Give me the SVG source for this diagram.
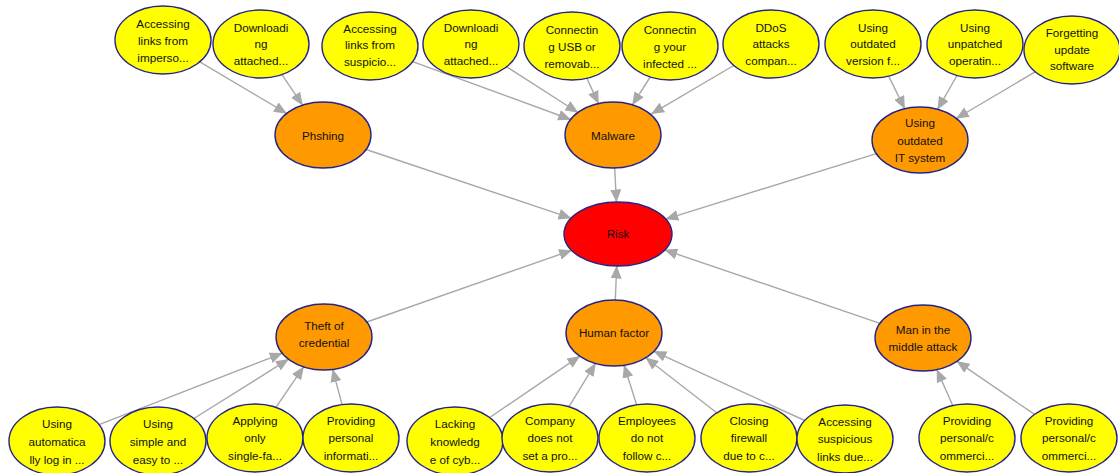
<svg xmlns="http://www.w3.org/2000/svg" width="1119" height="473" viewBox="0 0 1119 473">
  <defs>
    <marker id="arrow" markerUnits="userSpaceOnUse" markerWidth="13" markerHeight="11" viewBox="0 0 13 11" refX="12.5" refY="5.5" orient="auto">
      <path d="M0,0 L13,5.5 L0,11 Z" fill="#a8a8a8"/>
    </marker>
    <style>
      .edge { stroke: #a8a8a8; stroke-width: 1.4; fill: none; marker-end: url(#arrow); }
      .node ellipse { stroke: #23238a; stroke-width: 1.4; }
      .cause ellipse { fill: #ffff00; }
      .threat ellipse { fill: #ff9900; }
      .risk ellipse { fill: #ff0000; }
      .node text { font-family: "Liberation Sans", Arial, sans-serif; font-size: 11.7px; fill: #111; text-anchor: middle; dominant-baseline: central; }
    </style>
  </defs>
  <rect width="1119" height="473" fill="#ffffff"/>

  <!-- connectors -->
  <g id="edges">
    <line class="edge" x1="199.8" y1="61.8" x2="286.6" y2="113.4"/>
    <line class="edge" x1="281.9" y1="74.6" x2="302.6" y2="105.1"/>
    <line class="edge" x1="412.6" y1="61.6" x2="570.7" y2="119.5"/>
    <line class="edge" x1="506.6" y1="66.8" x2="577.9" y2="112.5"/>
    <line class="edge" x1="586.9" y1="78.3" x2="598.5" y2="103.6"/>
    <line class="edge" x1="650.2" y1="77.0" x2="632.4" y2="104.8"/>
    <line class="edge" x1="733.7" y1="65.5" x2="651.5" y2="113.8"/>
    <line class="edge" x1="888.7" y1="76.1" x2="904.7" y2="108.7"/>
    <line class="edge" x1="957.0" y1="75.5" x2="937.6" y2="109.3"/>
    <line class="edge" x1="1035.2" y1="71.8" x2="956.3" y2="118.5"/>
    <line class="edge" x1="366.1" y1="149.5" x2="571.0" y2="218.2"/>
    <line class="edge" x1="614.7" y1="168.0" x2="616.4" y2="202.0"/>
    <line class="edge" x1="876.3" y1="153.6" x2="665.8" y2="219.1"/>
    <line class="edge" x1="366.8" y1="322.0" x2="571.6" y2="250.3"/>
    <line class="edge" x1="615.3" y1="300.0" x2="616.7" y2="266.0"/>
    <line class="edge" x1="880.0" y1="323.3" x2="664.8" y2="250.0"/>
    <line class="edge" x1="99.0" y1="424.6" x2="282.2" y2="353.3"/>
    <line class="edge" x1="193.9" y1="418.5" x2="288.5" y2="359.2"/>
    <line class="edge" x1="275.9" y1="407.4" x2="303.6" y2="366.9"/>
    <line class="edge" x1="342.1" y1="404.6" x2="332.7" y2="369.5"/>
    <line class="edge" x1="489.7" y1="417.5" x2="579.8" y2="356.2"/>
    <line class="edge" x1="569.0" y1="406.7" x2="595.5" y2="363.4"/>
    <line class="edge" x1="636.6" y1="404.8" x2="624.1" y2="365.2"/>
    <line class="edge" x1="716.7" y1="412.8" x2="645.8" y2="357.7"/>
    <line class="edge" x1="804.7" y1="420.5" x2="653.9" y2="351.3"/>
    <line class="edge" x1="952.7" y1="405.5" x2="936.9" y2="369.6"/>
    <line class="edge" x1="1034.5" y1="414.4" x2="957.0" y2="361.3"/>
  </g>

  <!-- central node -->
  <g id="risk" class="node risk">
    <ellipse cx="618" cy="234" rx="54" ry="32"/>
    <text x="618" y="233">Risk</text>
  </g>

  <!-- threat nodes -->
  <g id="phishing" class="node threat">
    <ellipse cx="323" cy="135" rx="48" ry="33"/>
    <text x="323" y="135">Phshing</text>
  </g>
  <g id="malware" class="node threat">
    <ellipse cx="613" cy="135" rx="48" ry="33"/>
    <text x="613" y="135">Malware</text>
  </g>
  <g id="outdated-it" class="node threat">
    <ellipse cx="920" cy="140" rx="48" ry="33"/>
    <text x="920"><tspan x="920" y="122">Using</tspan><tspan x="920" y="139.5">outdated</tspan><tspan x="920" y="157">IT system</tspan></text>
  </g>
  <g id="credential-theft" class="node threat">
    <ellipse cx="324" cy="337" rx="48" ry="33"/>
    <text x="324"><tspan x="324" y="324.5">Theft of</tspan><tspan x="324" y="342">credential</tspan></text>
  </g>
  <g id="human-factor" class="node threat">
    <ellipse cx="614" cy="333" rx="48" ry="33"/>
    <text x="614" y="332.5">Human factor</text>
  </g>
  <g id="mitm" class="node threat">
    <ellipse cx="923" cy="338" rx="48" ry="33"/>
    <text x="923"><tspan x="923" y="328.5">Man in the</tspan><tspan x="923" y="345.5">middle attack</tspan></text>
  </g>

  <!-- top causes -->
  <g id="c-impersonated-links" class="node cause">
    <ellipse cx="163" cy="40" rx="48" ry="34"/>
    <text><tspan x="163" y="22.5">Accessing</tspan><tspan x="163" y="39.5">links from</tspan><tspan x="163" y="56.5">imperso...</tspan></text>
  </g>
  <g id="c-phish-attachment" class="node cause">
    <ellipse cx="261" cy="44" rx="48" ry="34"/>
    <text><tspan x="261" y="26.5">Downloadi</tspan><tspan x="261" y="43">ng</tspan><tspan x="261" y="59.5">attached...</tspan></text>
  </g>
  <g id="c-suspicious-links" class="node cause">
    <ellipse cx="370" cy="46" rx="48" ry="34"/>
    <text><tspan x="370" y="27.5">Accessing</tspan><tspan x="370" y="44">links from</tspan><tspan x="370" y="61">suspicio...</tspan></text>
  </g>
  <g id="c-malware-attachment" class="node cause">
    <ellipse cx="471" cy="44" rx="48" ry="34"/>
    <text><tspan x="471" y="26.5">Downloadi</tspan><tspan x="471" y="43">ng</tspan><tspan x="471" y="59.5">attached...</tspan></text>
  </g>
  <g id="c-usb" class="node cause">
    <ellipse cx="572" cy="46" rx="48" ry="34"/>
    <text><tspan x="572" y="29">Connectin</tspan><tspan x="572" y="46">g USB or</tspan><tspan x="572" y="63">removab...</tspan></text>
  </g>
  <g id="c-infected-device" class="node cause">
    <ellipse cx="670" cy="46" rx="48" ry="34"/>
    <text><tspan x="670" y="29">Connectin</tspan><tspan x="670" y="46">g your</tspan><tspan x="670" y="63">infected ...</tspan></text>
  </g>
  <g id="c-ddos" class="node cause">
    <ellipse cx="771" cy="44" rx="48" ry="34"/>
    <text><tspan x="771" y="26.5">DDoS</tspan><tspan x="771" y="43">attacks</tspan><tspan x="771" y="59.5">compan...</tspan></text>
  </g>
  <g id="c-outdated-version" class="node cause">
    <ellipse cx="873" cy="44" rx="48" ry="34"/>
    <text><tspan x="873" y="26.5">Using</tspan><tspan x="873" y="43">outdated</tspan><tspan x="873" y="59.5">version f...</tspan></text>
  </g>
  <g id="c-unpatched-os" class="node cause">
    <ellipse cx="975" cy="44" rx="48" ry="34"/>
    <text><tspan x="975" y="26.5">Using</tspan><tspan x="975" y="43">unpatched</tspan><tspan x="975" y="59.5">operatin...</tspan></text>
  </g>
  <g id="c-no-updates" class="node cause">
    <ellipse cx="1072" cy="50" rx="48" ry="34"/>
    <text><tspan x="1072" y="31.5">Forgetting</tspan><tspan x="1072" y="48.5">update</tspan><tspan x="1072" y="65">software</tspan></text>
  </g>

  <!-- bottom causes -->
  <g id="c-auto-login" class="node cause">
    <ellipse cx="57" cy="441" rx="48" ry="34"/>
    <text><tspan x="57" y="423">Using</tspan><tspan x="57" y="440.5">automatica</tspan><tspan x="57" y="458.5">lly log in ...</tspan></text>
  </g>
  <g id="c-simple-password" class="node cause">
    <ellipse cx="158" cy="441" rx="48" ry="34"/>
    <text><tspan x="158" y="423">Using</tspan><tspan x="158" y="440.5">simple and</tspan><tspan x="158" y="458.5">easy to ...</tspan></text>
  </g>
  <g id="c-single-factor" class="node cause">
    <ellipse cx="255" cy="438" rx="48" ry="34"/>
    <text><tspan x="255" y="420">Applying</tspan><tspan x="255" y="437">only</tspan><tspan x="255" y="455">single-fa...</tspan></text>
  </g>
  <g id="c-personal-info" class="node cause">
    <ellipse cx="351" cy="438" rx="48" ry="34"/>
    <text><tspan x="351" y="420">Providing</tspan><tspan x="351" y="437">personal</tspan><tspan x="351" y="455">informati...</tspan></text>
  </g>
  <g id="c-lacking-knowledge" class="node cause">
    <ellipse cx="455" cy="441" rx="48" ry="34"/>
    <text><tspan x="455" y="423">Lacking</tspan><tspan x="455" y="440.5">knowledg</tspan><tspan x="455" y="458.5">e of cyb...</tspan></text>
  </g>
  <g id="c-no-policy" class="node cause">
    <ellipse cx="550" cy="438" rx="48" ry="34"/>
    <text><tspan x="550" y="420">Company</tspan><tspan x="550" y="437">does not</tspan><tspan x="550" y="455">set a pro...</tspan></text>
  </g>
  <g id="c-not-following" class="node cause">
    <ellipse cx="647" cy="438" rx="48" ry="34"/>
    <text><tspan x="647" y="420">Employees</tspan><tspan x="647" y="437">do not</tspan><tspan x="647" y="455">follow c...</tspan></text>
  </g>
  <g id="c-firewall" class="node cause">
    <ellipse cx="749" cy="438" rx="48" ry="34"/>
    <text><tspan x="749" y="420">Closing</tspan><tspan x="749" y="437">firewall</tspan><tspan x="749" y="455">due to c...</tspan></text>
  </g>
  <g id="c-suspicious-links-human" class="node cause">
    <ellipse cx="845" cy="439" rx="48" ry="34"/>
    <text><tspan x="845" y="421">Accessing</tspan><tspan x="845" y="438">suspicious</tspan><tspan x="845" y="455.5">links due...</tspan></text>
  </g>
  <g id="c-providing-data-1" class="node cause">
    <ellipse cx="967" cy="438" rx="48" ry="34"/>
    <text><tspan x="967" y="420">Providing</tspan><tspan x="967" y="437">personal/c</tspan><tspan x="967" y="455">ommerci...</tspan></text>
  </g>
  <g id="c-providing-data-2" class="node cause">
    <ellipse cx="1069" cy="438" rx="48" ry="34"/>
    <text><tspan x="1069" y="420">Providing</tspan><tspan x="1069" y="437">personal/c</tspan><tspan x="1069" y="455">ommerci...</tspan></text>
  </g>
</svg>
